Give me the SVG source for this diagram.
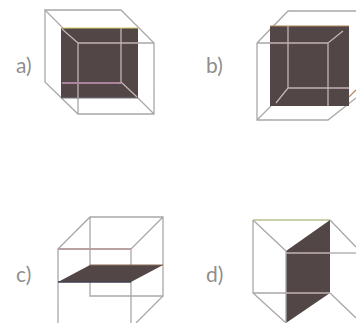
<svg xmlns="http://www.w3.org/2000/svg" width="356" height="323" viewBox="0 0 356 323">
<style>
.l{font:400 21px "Lato","Open Sans",sans-serif;fill:#8f8f8f}
.e{fill:none;stroke:#aaa7a7;stroke-width:1.3}
.i{fill:none;stroke:#c4b3b5;stroke-width:1.3}
.p{fill:#524646}
</style>
<rect width="356" height="323" fill="#fff"/>
<g id="cube-a">
<text class="l" x="16" y="73">a)</text>
<path class="e" d="M45 10H121L154 43V114H78L45 82V10L78 43V114M154 43H138M138 98L154 114"/>
<path class="p" d="M61 28H138V98H61Z"/>
<path d="M61 28H138" fill="none" stroke="#d8cf6a" stroke-width="1.2"/>
<path d="M61 98H138" fill="none" stroke="#6f7480" stroke-width="1.2"/>
<path class="i" d="M78 43H138M78 43V98M121 28V82M62 83H121M62 29L78 43M121 82L137 97"/>
<path d="M62 83H119" fill="none" stroke="#a87f9c" stroke-width="1.6"/>
</g>
<g id="cube-b">
<text class="l" x="206" y="73">b)</text>
<path class="e" d="M257 43V120H328L356 98M257 120L271 106M257 43L288 11H356M257 43H270"/>
<path class="p" d="M270 26H349V106H270Z"/>
<path d="M270 26H349" fill="none" stroke="#b0885a" stroke-width="1.2"/>
<path class="i" d="M270 43H328V106M328 43L343 31M288 26V88H349M288 88L276 103"/>
<path d="M349 97L356 90" fill="none" stroke="#b0885a" stroke-width="1.2"/>
</g>
<g id="cube-c">
<text class="l" x="16" y="282">c)</text>
<path class="e" d="M58 323V249H131V323M58 249L90 217H163V296H90V217M131 249L163 217M163 296L136 323"/>
<path d="M58 249H131" fill="none" stroke="#b59a9a" stroke-width="1.3"/>
<path class="p" d="M58 282L90 265H163L131 282Z"/>
<path d="M90 265H163" fill="none" stroke="#8a6a50" stroke-width="1.2"/>
<path d="M58 282H131" fill="none" stroke="#3f4050" stroke-width="1.4"/>
</g>
<g id="cube-d">
<text class="l" x="206" y="282">d)</text>
<path class="e" d="M253 220V293H286M253 220L286 251M253 293L286 323M330 220L356 247M330 293L356 318"/>
<path d="M253 220H330" fill="none" stroke="#b3c08f" stroke-width="1.3"/>
<path class="p" d="M330 220L286 251V323L330 293Z"/>
<path class="e" d="M286 251V323"/>
<path class="i" d="M286 253H330M286 293H330"/>
<path class="e" d="M330 253H356"/>
</g>
</svg>
